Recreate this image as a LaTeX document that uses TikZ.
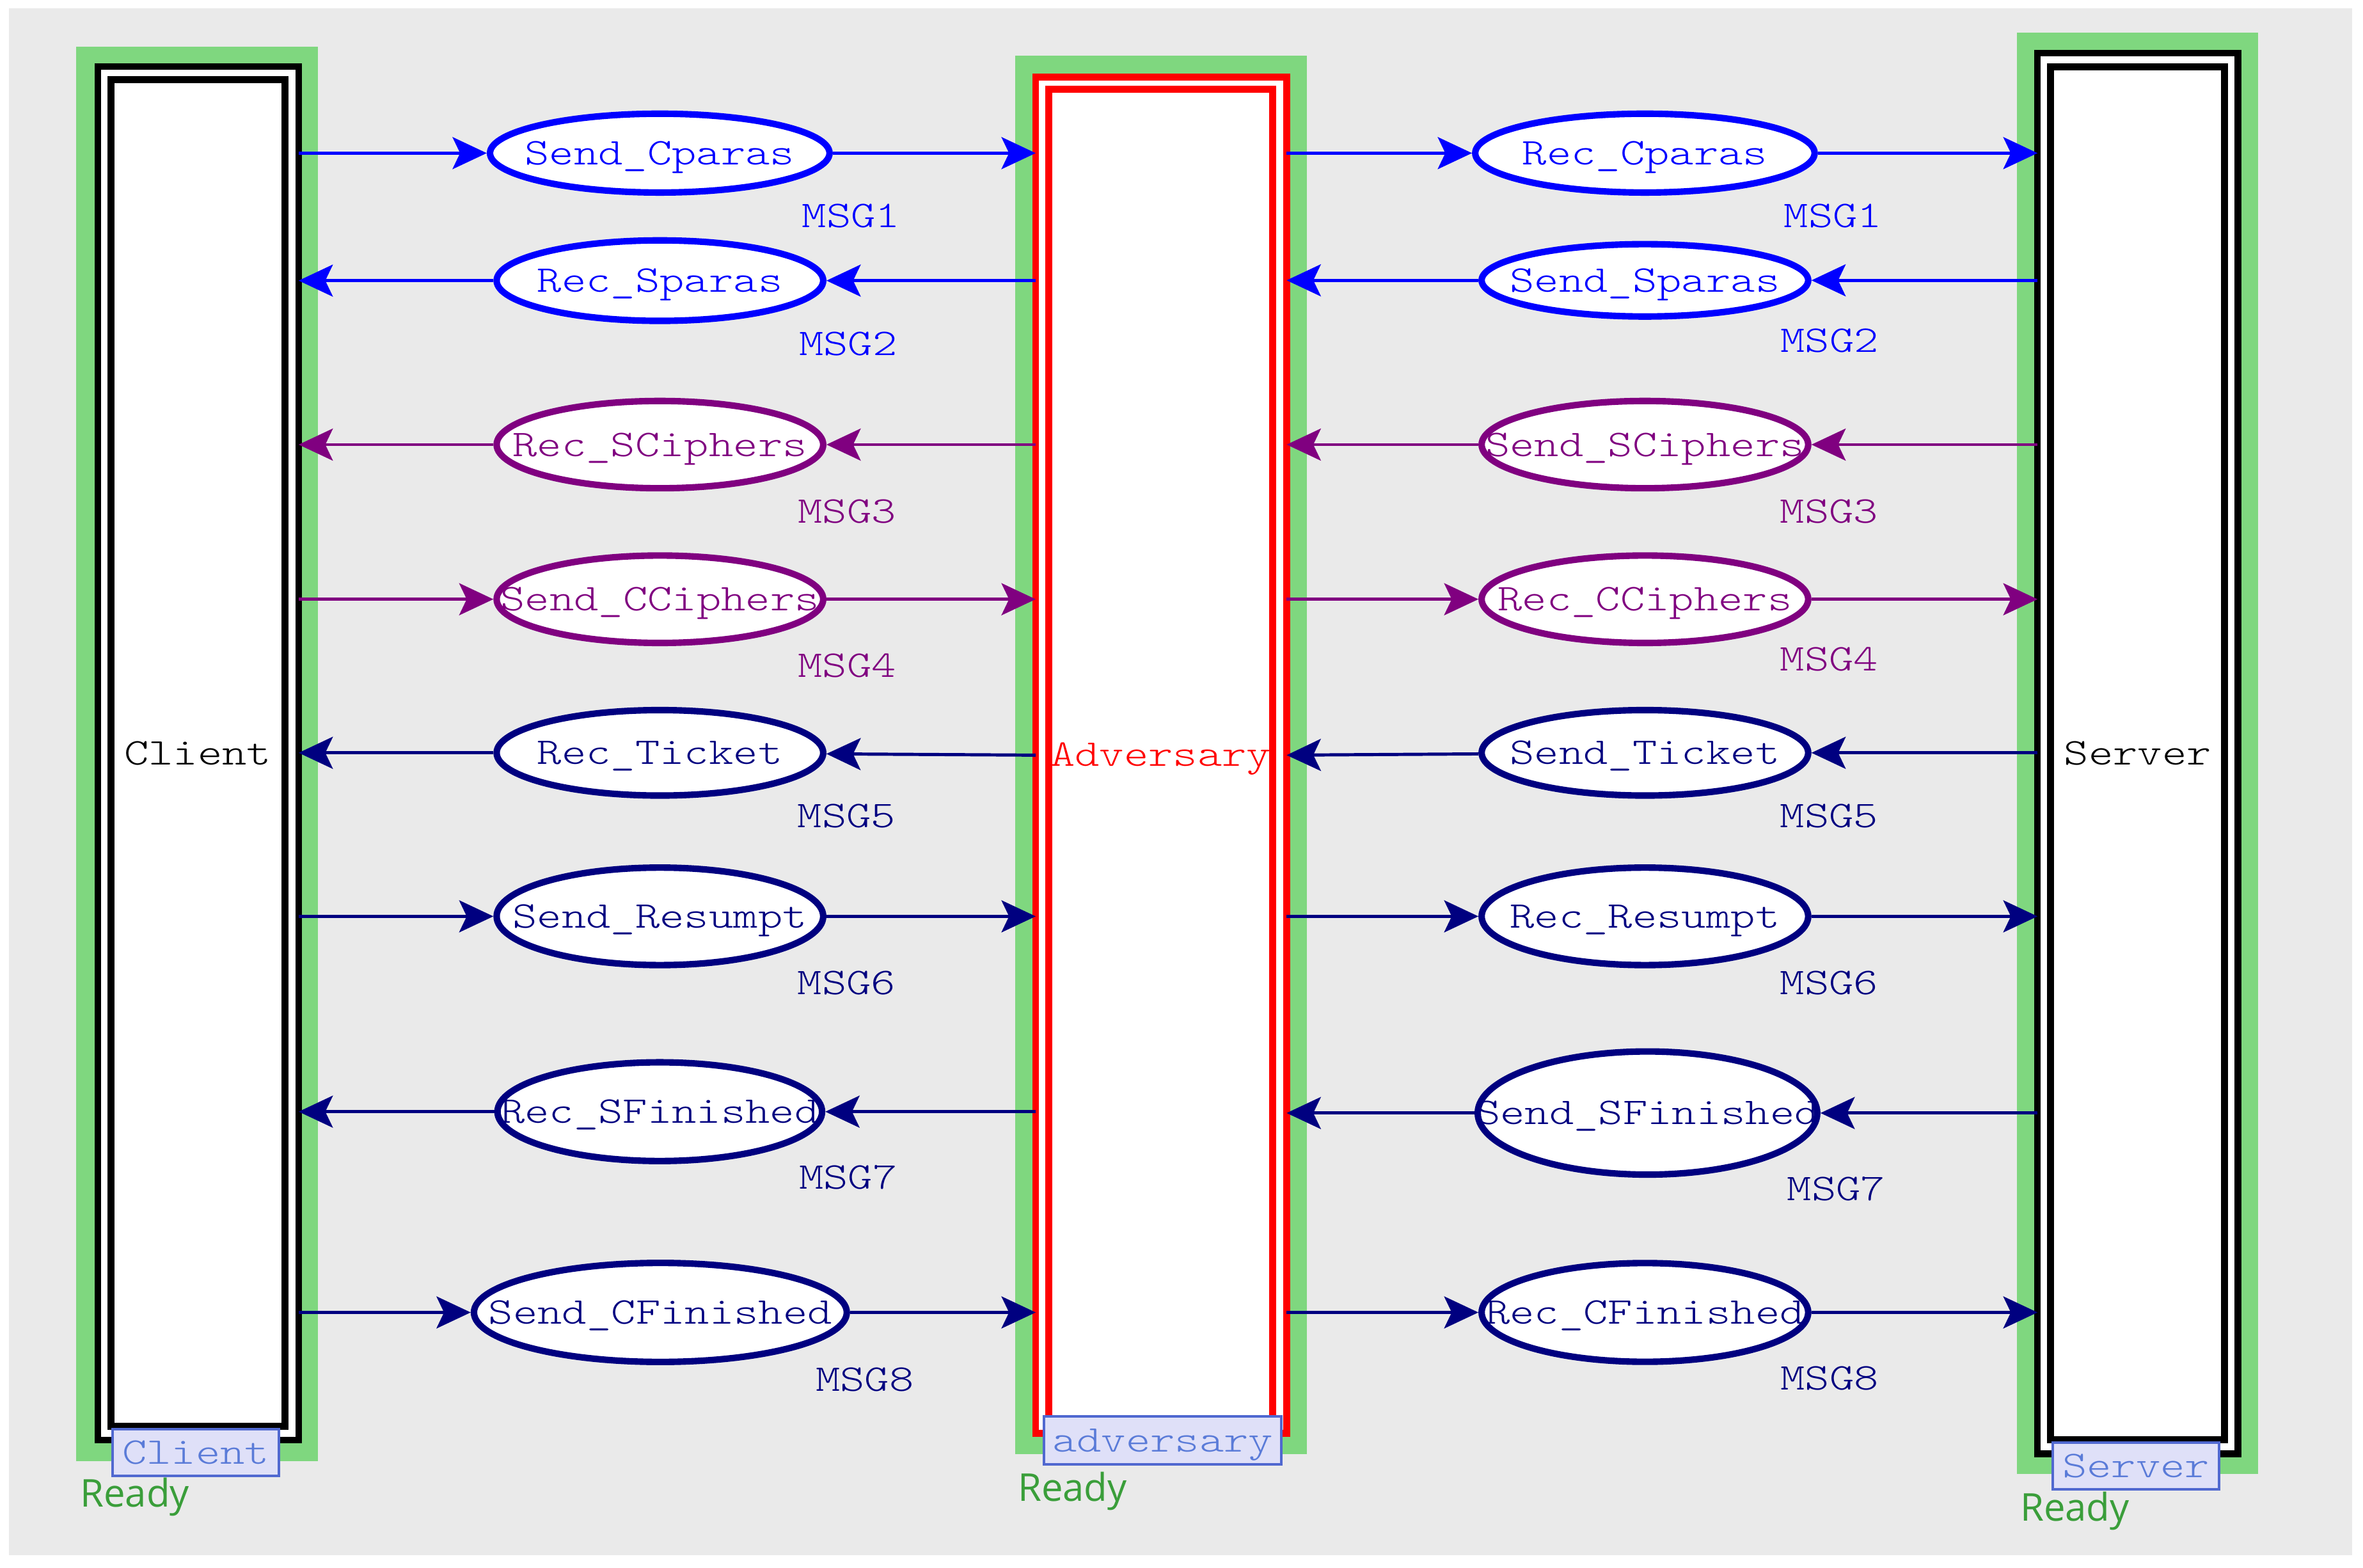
\documentclass[tikz,border=0pt]{standalone}
\usepackage{fontspec}
\usetikzlibrary{arrows.meta,shapes.geometric}
\newfontfamily\courfont{lmmonolt10-regular}[Extension=.otf,FakeStretch=1.24]
\newfontfamily\readyfont{Open Sans}
\definecolor{bggray}{HTML}{EAEAEA}
\definecolor{pngreen}{HTML}{7FD77F}
\definecolor{cblue}{HTML}{0000FF}
\definecolor{cpurple}{HTML}{800080}
\definecolor{cnavy}{HTML}{000080}
\definecolor{cred}{HTML}{FF0000}
\definecolor{tagfill}{HTML}{DFE0F8}
\definecolor{tagdraw}{HTML}{5068D0}
\definecolor{tagtext}{HTML}{5A7BD8}
\definecolor{readygreen}{HTML}{3A9E3A}
\tikzset{
  courtext/.style={font={\courfont\fontsize{25}{30}\selectfont}},
  captext/.style={text height=15.3pt, text depth=0pt},
  greenbg/.style={rectangle, fill=pngreen, draw=none, inner sep=0pt, outer sep=0pt},
  outerbox/.style={rectangle, draw=#1, fill=white, line width=4.3pt, inner sep=0pt, outer sep=0pt},
  innerbox/.style={rectangle, draw=#1, line width=4.6pt, inner sep=0pt, outer sep=0pt, courtext, captext},
  tagbox/.style={rectangle, draw=tagdraw, fill=tagfill, line width=1.7pt, text=tagtext, courtext, captext, inner sep=0pt, outer sep=0pt},
  readytext/.style={font={\readyfont\fontsize{25.4}{30}\selectfont}, text=readygreen, inner sep=0pt, anchor=base west},
  ell/.style={ellipse, draw=#1, line width=4.3pt, fill=white, text=#1, inner xsep=-70pt, inner ysep=-30pt, courtext, captext},
  msg/.style={text=#1, courtext, inner sep=0pt, anchor=base west},
  conn/.style={draw=#1, line width=2.1pt, -{Stealth[length=22.7pt,width=21.2pt,inset=5pt]}}
}
\begin{document}
\begin{tikzpicture}[x=1pt,y=-1pt]
\useasboundingbox (0,0) rectangle (1568,1040);
\fill[white] (0,0) rectangle (1568,1040);
\fill[bggray] (5.9,5.4) rectangle (1560.8,1032);

% Client column
\node[greenbg, minimum width=160.3pt, minimum height=938.6pt] (clientbg) at (130.85,500.2) {};
\node[outerbox=black, minimum width=133.1pt, minimum height=911.4pt] (client) at (131.6,499.75) {};
\node[innerbox=black, minimum width=115.5pt, minimum height=893.4pt] (clientin) at (131.25,499.7) {Client};

% Adversary column
\node[greenbg, minimum width=193.7pt, minimum height=927.8pt] (advbg) at (770.45,500.9) {};
\node[outerbox=cred, line width=4.5pt, minimum width=166.5pt, minimum height=900pt] (adv) at (770.5,501.05) {};
\node[innerbox=cred, text=cred, line width=4.7pt, minimum width=148.7pt, minimum height=882.9pt] (advin) at (770.3,500.8) {Adversary};

% Server column
\node[greenbg, minimum width=159.9pt, minimum height=956.4pt] (serverbg) at (1418.35,499.8) {};
\node[outerbox=black, minimum width=133pt, minimum height=929.3pt] (server) at (1418.5,499.95) {};
\node[innerbox=black, minimum width=115.3pt, minimum height=911.1pt] (serverin) at (1418.45,499.75) {Server};

% Left transitions
\node[ell=cblue, minimum width=225.3pt, minimum height=52.3pt] (sendcp) at (437.8,101.6) {Send\_Cparas};
\node[ell=cblue, minimum width=216.7pt, minimum height=53.4pt] (recsp) at (437.9,186.2) {Rec\_Sparas};
\node[ell=cpurple, minimum width=216.7pt, minimum height=57.9pt] (recsc) at (437.9,295) {Rec\_SCiphers};
\node[ell=cpurple, minimum width=216.7pt, minimum height=58pt] (sendcc) at (437.9,397.6) {Send\_CCiphers};
\node[ell=cnavy, minimum width=216.7pt, minimum height=56.7pt] (rect) at (437.9,499.5) {Rec\_Ticket};
\node[ell=cnavy, minimum width=216.7pt, minimum height=64.7pt] (sendres) at (437.9,608) {Send\_Resumpt};
\node[ell=cnavy, minimum width=215.4pt, minimum height=65.5pt] (recsf) at (437.8,737.6) {Rec\_SFinished};
\node[ell=cnavy, minimum width=247.4pt, minimum height=65.7pt] (sendcf) at (438.2,870.8) {Send\_CFinished};

% Right transitions
\node[ell=cblue, minimum width=225.2pt, minimum height=52.3pt] (reccp) at (1091.5,101.6) {Rec\_Cparas};
\node[ell=cblue, minimum width=216.7pt, minimum height=48pt] (sendsp) at (1091.5,186) {Send\_Sparas};
\node[ell=cpurple, minimum width=216.7pt, minimum height=57.9pt] (sendsc) at (1091.5,295) {Send\_SCiphers};
\node[ell=cpurple, minimum width=216.7pt, minimum height=58pt] (reccc) at (1091.5,397.6) {Rec\_CCiphers};
\node[ell=cnavy, minimum width=216.7pt, minimum height=56.7pt] (sendt) at (1091.5,499.5) {Send\_Ticket};
\node[ell=cnavy, minimum width=216.7pt, minimum height=64.7pt] (recres) at (1091.5,608) {Rec\_Resumpt};
\node[ell=cnavy, minimum width=225.3pt, minimum height=81.7pt] (sendsf) at (1093.2,738.5) {Send\_SFinished};
\node[ell=cnavy, minimum width=216.7pt, minimum height=65.5pt] (reccf) at (1091.5,870.8) {Rec\_CFinished};

% MSG labels left
\node[msg=cblue] (m1l) at (532,151.1) {MSG1};
\node[msg=cblue] (m2l) at (530,236) {MSG2};
\node[msg=cpurple] (m3l) at (529.3,346.9) {MSG3};
\node[msg=cpurple] (m4l) at (529.3,449.2) {MSG4};
\node[msg=cnavy] (m5l) at (529,549) {MSG5};
\node[msg=cnavy] (m6l) at (529,660) {MSG6};
\node[msg=cnavy] (m7l) at (530,788.7) {MSG7};
\node[msg=cnavy] (m8l) at (541,922.8) {MSG8};
% MSG labels right
\node[msg=cblue] (m1r) at (1183.5,151.1) {MSG1};
\node[msg=cblue] (m2r) at (1181.3,233.7) {MSG2};
\node[msg=cpurple] (m3r) at (1181,347) {MSG3};
\node[msg=cpurple] (m4r) at (1181,445) {MSG4};
\node[msg=cnavy] (m5r) at (1181,549) {MSG5};
\node[msg=cnavy] (m6r) at (1181,660) {MSG6};
\node[msg=cnavy] (m7r) at (1185.7,796.4) {MSG7};
\node[msg=cnavy] (m8r) at (1181.3,922) {MSG8};

% Row 1 (rightward)
\draw[conn=cblue] (client.east |- sendcp) -- (sendcp);
\draw[conn=cblue] (sendcp) -- (sendcp -| adv.west);
\draw[conn=cblue] (adv.east |- reccp) -- (reccp);
\draw[conn=cblue] (reccp) -- (reccp -| server.west);
% Row 2 (leftward)
\draw[conn=cblue] (server.west |- sendsp) -- (sendsp);
\draw[conn=cblue] (sendsp) -- (sendsp -| adv.east);
\draw[conn=cblue] (adv.west |- recsp) -- (recsp);
\draw[conn=cblue] (recsp) -- (recsp -| client.east);
% Row 3 (leftward)
\draw[conn=cpurple] (server.west |- sendsc) -- (sendsc);
\draw[conn=cpurple] (sendsc) -- (sendsc -| adv.east);
\draw[conn=cpurple] (adv.west |- recsc) -- (recsc);
\draw[conn=cpurple] (recsc) -- (recsc -| client.east);
% Row 4 (rightward)
\draw[conn=cpurple] (client.east |- sendcc) -- (sendcc);
\draw[conn=cpurple] (sendcc) -- (sendcc -| adv.west);
\draw[conn=cpurple] (adv.east |- reccc) -- (reccc);
\draw[conn=cpurple] (reccc) -- (reccc -| server.west);
% Row 5 (leftward)
\draw[conn=cnavy] (server.west |- sendt) -- (sendt);
\draw[conn=cnavy] (sendt) -- (adv.east);
\draw[conn=cnavy] (adv.west) -- (rect);
\draw[conn=cnavy] (rect) -- (rect -| client.east);
% Row 6 (rightward)
\draw[conn=cnavy] (client.east |- sendres) -- (sendres);
\draw[conn=cnavy] (sendres) -- (sendres -| adv.west);
\draw[conn=cnavy] (adv.east |- recres) -- (recres);
\draw[conn=cnavy] (recres) -- (recres -| server.west);
% Row 7 (leftward)
\draw[conn=cnavy] (server.west |- sendsf) -- (sendsf);
\draw[conn=cnavy] (sendsf) -- (sendsf -| adv.east);
\draw[conn=cnavy] (adv.west |- recsf) -- (recsf);
\draw[conn=cnavy] (recsf) -- (recsf -| client.east);
% Row 8 (rightward)
\draw[conn=cnavy] (client.east |- sendcf) -- (sendcf);
\draw[conn=cnavy] (sendcf) -- (sendcf -| adv.west);
\draw[conn=cnavy] (adv.east |- reccf) -- (reccf);
\draw[conn=cnavy] (reccf) -- (reccf -| server.west);

% Tags and status
\node[tagbox, minimum width=110.3pt, minimum height=31pt] (clienttag) at (130,963.65) {Client};
\node[tagbox, minimum width=157.3pt, minimum height=31.6pt] (advtag) at (771.5,955.65) {adversary};
\node[tagbox, minimum width=110.5pt, minimum height=31.1pt] (servertag) at (1417.4,972.6) {Server};
\node[readytext] (clientready) at (53,1000) {Ready};
\node[readytext] (advready) at (675.2,996) {Ready};
\node[readytext] (serverready) at (1340.3,1009.2) {Ready};
\end{tikzpicture}
\end{document}
